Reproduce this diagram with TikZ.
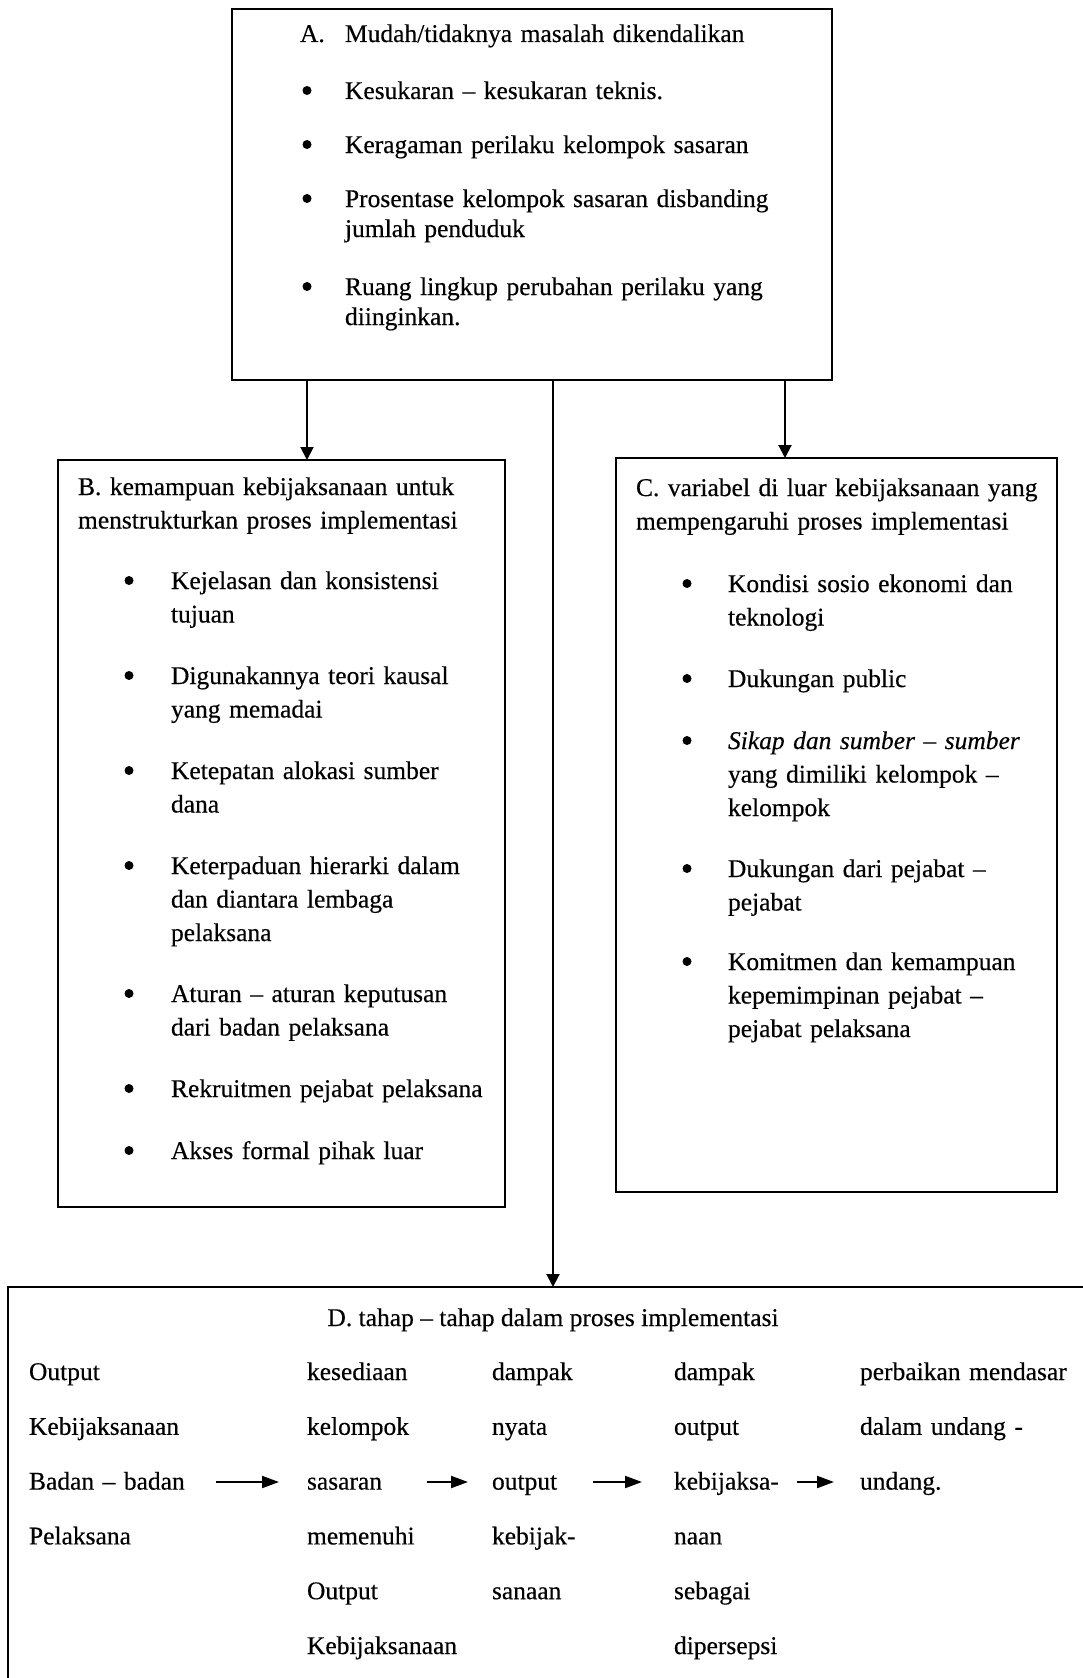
\documentclass[tikz,border=0pt]{standalone}
\usepackage{fontspec}
\setmainfont{Liberation Serif}[FakeBold=0.35]
\usetikzlibrary{arrows.meta}
\begin{document}
\begin{tikzpicture}[x=1pt,y=-1pt,
  box/.style={draw, line width=2pt, anchor=north west, inner sep=0pt, outer sep=0pt},
  txta/.style={anchor=base west, inner sep=0pt, outer sep=0pt, text width=520pt, align=left, font=\fontsize{25.5}{30}\selectfont},
  txtb/.style={anchor=base west, inner sep=0pt, outer sep=0pt, text width=420pt, align=left, font=\fontsize{25.5}{33.5}\selectfont},
  txtd/.style={anchor=base west, inner sep=0pt, outer sep=0pt, text width=240pt, align=left, font=\fontsize{25.5}{54.8}\selectfont},
  lab/.style={anchor=base west, inner sep=0pt, outer sep=0pt, font=\fontsize{25.5}{30}\selectfont},
  ttl/.style={anchor=base, inner sep=0pt, outer sep=0pt, font=\fontsize{25.5}{30}\selectfont},
  bul/.style={circle, fill, inner sep=0pt, minimum size=9pt, yshift=8.5pt},
  conn/.style={line width=2pt, -{Triangle[width=13pt,length=13pt]}},
  darr/.style={line width=2pt, -{Triangle[width=12pt,length=17pt]}}
]
\useasboundingbox[fill=white] (0,0) rectangle (1082,1678);

% boxes
\node[box, minimum width=600pt, minimum height=371pt] (A) at (232,9) {};
\node[box, minimum width=447pt, minimum height=747pt] (B) at (58,460) {};
\node[box, minimum width=441pt, minimum height=734pt] (C) at (616,458) {};
\node[box, minimum width=1082pt, minimum height=398pt] (D) at (8,1287) {};

% connector x positions
\coordinate (xB) at (307,0);
\coordinate (xM) at (553,0);
\coordinate (xC) at (785,0);
\draw[conn] (A.south -| xB) -- (B.north -| xB);
\draw[conn] (A.south -| xC) -- (C.north -| xC);
\draw[conn] (A.south -| xM) -- (D.north -| xM);

% Box A
\node[lab] (Alab) at (300,42) {A.};
\node[txta] (Atitle) at (345,42) {Mudah/tidaknya masalah dikendalikan};
\node[bul] (Ab1) at (307,99) {};
\node[txta] (Ai1) at (345,99) {Kesukaran – kesukaran teknis.};
\node[bul] (Ab2) at (307,153) {};
\node[txta] (Ai2) at (345,153) {Keragaman perilaku kelompok sasaran};
\node[bul] (Ab3) at (307,207) {};
\node[txta] (Ai3) at (345,207) {Prosentase kelompok sasaran disbanding\\jumlah penduduk};
\node[bul] (Ab4) at (307,295) {};
\node[txta] (Ai4) at (345,295) {Ruang lingkup perubahan perilaku yang\\diinginkan.};

% Box B
\node[txtb] (Btitle) at (78,495) {B. kemampuan kebijaksanaan untuk\\menstrukturkan proses implementasi};
\node[bul] (Bb1) at (129,589) {};
\node[txtb] (Bi1) at (171,589) {Kejelasan dan konsistensi\\tujuan};
\node[bul] (Bb2) at (129,684) {};
\node[txtb] (Bi2) at (171,684) {Digunakannya teori kausal\\yang memadai};
\node[bul] (Bb3) at (129,779) {};
\node[txtb] (Bi3) at (171,779) {Ketepatan alokasi sumber\\dana};
\node[bul] (Bb4) at (129,874) {};
\node[txtb] (Bi4) at (171,874) {Keterpaduan hierarki dalam\\dan diantara lembaga\\pelaksana};
\node[bul] (Bb5) at (129,1002) {};
\node[txtb] (Bi5) at (171,1002) {Aturan – aturan keputusan\\dari badan pelaksana};
\node[bul] (Bb6) at (129,1097) {};
\node[txtb] (Bi6) at (171,1097) {Rekruitmen pejabat pelaksana};
\node[bul] (Bb7) at (129,1159) {};
\node[txtb] (Bi7) at (171,1159) {Akses formal pihak luar};

% Box C
\node[txtb] (Ctitle) at (636,496) {C. variabel di luar kebijaksanaan yang\\mempengaruhi proses implementasi};
\node[bul] (Cb1) at (687,592) {};
\node[txtb] (Ci1) at (728,592) {Kondisi sosio ekonomi dan\\teknologi};
\node[bul] (Cb2) at (687,687) {};
\node[txtb] (Ci2) at (728,687) {Dukungan public};
\node[bul] (Cb3) at (687,749) {};
\node[txtb] (Ci3) at (728,749) {\textit{Sikap dan sumber – sumber}\\yang dimiliki kelompok –\\kelompok};
\node[bul] (Cb4) at (687,877) {};
\node[txtb] (Ci4) at (728,877) {Dukungan dari pejabat –\\pejabat};
\node[bul] (Cb5) at (687,970) {};
\node[txtb] (Ci5) at (728,970) {Komitmen dan kemampuan\\kepemimpinan pejabat –\\pejabat pelaksana};

% Box D
\node[ttl] (Dtitle) at (553,1326) {D. tahap – tahap dalam proses implementasi};
\node[txtd] (Dc1) at (29,1380) {Output\\Kebijaksanaan\\Badan – badan\\Pelaksana};
\node[txtd] (Dc2) at (307,1380) {kesediaan\\kelompok\\sasaran\\memenuhi\\Output\\Kebijaksanaan};
\node[txtd] (Dc3) at (492,1380) {dampak\\nyata\\output\\kebijak-\\sanaan};
\node[txtd] (Dc4) at (674,1380) {dampak\\output\\kebijaksa-\\naan\\sebagai\\dipersepsi};
\node[txtd] (Dc5) at (860,1380) {perbaikan mendasar\\dalam undang -\\undang.};

\coordinate (d1s) at (216,1482); \coordinate (d1e) at (279,1482);
\coordinate (d2s) at (427,1482); \coordinate (d2e) at (468,1482);
\coordinate (d3s) at (593,1482); \coordinate (d3e) at (642,1482);
\coordinate (d4s) at (797,1482); \coordinate (d4e) at (834,1482);
\draw[darr] (d1s) -- (d1e);
\draw[darr] (d2s) -- (d2e);
\draw[darr] (d3s) -- (d3e);
\draw[darr] (d4s) -- (d4e);
\end{tikzpicture}
\end{document}
